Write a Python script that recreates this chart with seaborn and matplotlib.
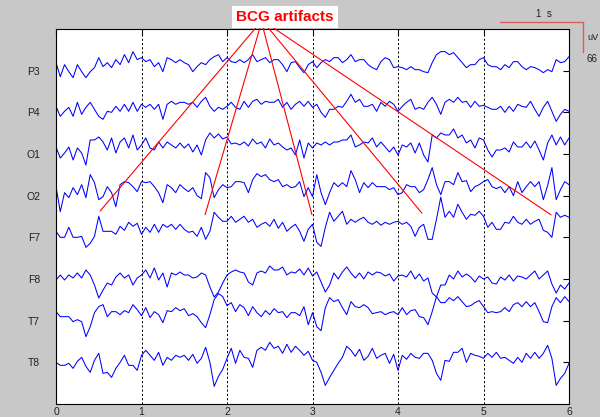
import numpy as np
import pandas as pd
import matplotlib
matplotlib.use("Agg")
import matplotlib.pyplot as plt
from matplotlib.lines import Line2D
import seaborn as sns

# ---------------- data (deflections, display px; 30 px = 66 uV) -------------
channels = ["P3", "P4", "O1", "O2", "F7", "F8", "T7", "T8"]
sample_step_s = 0.05
n_samples = 121

P3 = [8, -6, 6, -1, -7, 6, -1, -7, -1, 3, 13, 4, 8, 3, 11, 6, 16, 8, 19, 11, 13, 9, 11, 4, 8, -1, 13, 11, 8, 11, 8,
      6, -1, 4, 8, 6, 11, 14, 16, 9, 13, 9, 8, 11, 8, 11, 16, 9, 11, 13, 8, 11, 11, 6, -1, 8, 9, 3, -2, 6, 9,
      3, 8, 11, 9, 13, 13, 8, 11, 16, 9, 11, 11, 6, 3, 1, 9, 13, 11, 3, 4, 3, 1, 4, 1, 1, -1, -2, 8, 16, 19,
      19, 16, 18, 13, 8, 3, 6, 6, 11, 13, 6, 4, 4, 1, 6, 3, 9, 9, 4, 1, 4, 3, 1, -2, 1, -1, 11, 8, 9, 14]
P4 = [6, -4, 1, 5, -4, 10, -2, 5, 10, 3, -4, -7, 1, 0, 6, 1, 8, 1, 10, 1, 8, 5, 8, 3, 8, -7, 8, 11, 8, 10, 10,
      8, 10, 5, 11, 15, 6, 1, 5, 3, 6, 10, 5, 3, 11, 5, 11, 13, 8, 11, 10, 10, 13, 5, 10, 3, 8, 11, 6, 11, 5,
      8, 0, -5, 3, 3, 6, 5, 11, 18, 10, 13, 6, 6, 8, 1, 10, 6, 11, 8, 1, 6, 10, 13, 3, 5, 3, 10, 15, 8, -2,
      10, 13, 10, 15, 10, 11, 5, 11, 6, 7, 5, 3, 3, 6, 0, 6, 1, 8, 6, 5, 11, 3, -4, 5, 11, 1, -9, -2, 3, 1]
O1 = [7, -4, 1, 7, -6, 6, 1, -11, 14, 14, 17, 12, 4, 16, 1, 12, 16, 6, 19, 4, 9, 16, 6, 4, 12, 6, 12, 9, 6, 11, 6,
      10, 2, 9, -1, 14, 21, 16, 20, 15, 17, 10, 11, 9, 12, 8, 15, 10, 12, 6, 15, 9, 11, 7, 4, 6, -1, 14, -4, 11, 6,
      11, 9, 12, 9, 12, 12, 14, 14, 19, 7, 9, 12, 11, 16, 7, 12, 7, 2, 7, -1, 9, 7, 11, 1, 11, -1, -8, 19, 16, 21,
      19, 19, 25, 16, 19, 11, 14, 6, 16, 14, 4, -3, 4, 4, 6, 2, 12, 7, 7, 12, 6, 13, 4, -6, 11, 19, 9, 17, 9, 16]
O2 = [9, -16, 3, -2, 8, 1, 11, -2, 21, 13, -4, -1, 9, 3, -11, 11, 14, 13, 9, 4, 14, 13, 14, 9, 3, -7, 11, 8, 3, 11, 7,
      4, 8, 0, -3, 23, 18, -2, 6, 11, 8, 9, 14, 14, 13, 3, 16, 22, 19, 21, 16, 14, 16, 9, 11, 8, 9, 14, -1, 8, -1,
      21, 3, -9, 3, 13, 9, 13, 9, 25, 16, 3, 13, 8, 13, 9, 9, 9, 6, 8, 1, 3, 11, 9, 9, 3, 6, 16, 28, 11, 1,
      14, 14, 11, 23, 14, 15, 4, 9, 11, 14, 16, 9, 7, 9, 3, 9, 0, 14, 3, 9, 14, 9, 14, -4, 10, 28, -4, 6, 14, 11]
F7 = [6, 0, 0, 10, 0, 0, 1, -10, -6, 1, 21, 6, 6, 6, 3, 11, 7, 15, 11, 14, 3, 10, 5, 13, 5, 13, 10, 13, 8, 13, 8,
      5, 6, 1, 10, -2, 6, 25, 20, 16, 16, 21, 15, 18, 21, 15, 18, 10, 13, 15, 11, 18, 9, 15, 6, 10, 13, 6, -4, 8, 13,
      -5, -9, 10, 25, 16, 21, 26, 13, 18, 15, 18, 20, 15, 13, 16, 12, 15, 13, 15, 16, 13, 15, 11, 1, 10, 13, -2, -2, 18, 40,
      20, 26, 20, 33, 25, 18, 23, 22, 26, 21, 10, 15, 8, 8, 15, 14, 21, 15, 13, 18, 13, 16, 18, 7, 5, 0, 25, 20, 22, 20]
F8 = [-1, 4, -1, 4, 1, 6, 1, 9, 4, -6, -19, -11, -4, -6, 2, 6, 1, 4, -6, 1, 4, 9, 1, 11, -1, 6, -8, 6, 4, 7, 4,
      4, 1, 2, 6, 4, -8, -18, -13, -4, 4, 7, 9, 7, 6, -3, -6, 6, 8, 6, 13, 9, 9, 12, 4, 7, 6, 10, 4, 11, 3,
      7, -3, -13, -6, 6, 0, 7, 12, 6, 1, 6, 0, 7, 4, 7, 6, 3, 5, -2, 3, 4, 2, 8, 0, 5, -2, 1, -14, -18, -6,
      -6, 4, 0, 8, 2, 5, 2, -3, 3, 0, 2, -4, -5, 2, -1, 4, -2, 3, 2, 0, 4, 8, 0, 4, 8, -5, -14, -6, -10, -4]
T7 = [9, 4, 4, 4, -1, 1, -1, -16, -6, 8, 14, 16, 4, 9, 9, 6, 10, 8, 16, 11, 5, 13, 3, 9, 6, -2, 10, 9, 13, 10, 12,
      5, 7, 4, -2, -7, 6, 21, 27, 24, 15, 18, 9, 16, 13, 5, 14, 8, 4, 10, 6, 12, 8, 9, 3, 8, 8, 5, 14, -4, 8,
      -6, -10, 13, 23, 19, 21, 13, 6, 19, 14, 13, 16, 13, 7, 8, 9, 6, 8, 9, 6, 13, 6, 10, 11, 4, 3, -4, 9, 24, 18,
      18, 23, 20, 24, 19, 14, 15, 18, 20, 14, 8, 9, 8, 9, 13, 9, 16, 18, 14, 19, 14, 18, 9, -1, -2, 14, 23, 18, 24, 19]
T8 = [0, -3, -3, -1, -6, 1, 5, -4, -10, 2, 9, -11, -10, -15, -6, 0, 7, -3, -3, -8, 7, 12, 7, 2, 10, -3, 5, 2, 7, 5, 7,
      2, 8, -1, 4, 15, 0, -24, -14, -7, 4, 14, -1, 12, 5, 4, -5, 12, 15, 12, 20, 14, 16, 9, 18, 10, 16, 12, 7, 11, 2,
      0, -10, -23, -15, -8, -1, 5, 16, 12, 6, 13, 2, 6, 14, 4, 7, 9, -1, 8, -8, 7, 3, 9, 5, 4, 9, 9, 2, -11, -18,
      2, 1, 10, 10, 14, 0, 9, 7, 6, 4, 9, 5, 10, 4, 5, 2, -1, 5, 0, 9, 4, 10, 4, 9, 17, 4, -23, -16, -11, -1]
x_ticks = [0, 1, 2, 3, 4, 5, 6]
title_text = "BCG artifacts"
scale_time_label = "1  s"
scale_unit_label = "uV"
scale_amp_label = "66"

# ---------------- build table ----------------
px_per_channel = 41.57
time = np.round(np.arange(n_samples) * sample_step_s, 3)
series = {"P3": P3, "P4": P4, "O1": O1, "O2": O2, "F7": F7, "F8": F8, "T7": T7, "T8": T8}
rows = []
for i, ch in enumerate(channels):
    vals = np.asarray(series[ch], dtype=float)
    for tt, v in zip(time, vals):
        rows.append({"t": tt, "channel": ch, "y": (i + 1) - v / px_per_channel})
df = pd.DataFrame(rows)

# ---------------- style ----------------
sns.set_theme(style="white")
plt.rcParams["font.family"] = ["Liberation Sans", "DejaVu Sans"]

W, H = 600, 417
fig = plt.figure(figsize=(W / 100, H / 100), dpi=100, facecolor="#c8c8c8")
ax = fig.add_axes([56 / W, 1 - 404 / H, 513 / W, 375 / H])
ax.set_facecolor("white")

sns.lineplot(data=df, x="t", y="y", units="channel", estimator=None, sort=False,
             color="#0000ff", lw=0.75, ax=ax, legend=False)

for xv in x_ticks[1:-1]:
    ax.axvline(xv, color="black", ls=(0, (2.2, 2.2)), lw=0.7, zorder=1)

ax.set_xlim(0, 6)
ax.set_ylim(9, 0)
ax.set_xticks(x_ticks)
ax.set_xticklabels([str(v) for v in x_ticks])
ax.set_yticks(range(1, len(channels) + 1))
ax.set_yticklabels(channels)
ax.set_xlabel("")
ax.set_ylabel("")
ax.tick_params(axis="both", direction="in", length=4, width=0.8, top=True, right=True,
               labelsize=7.5, labelcolor="#202020", color="black")
ax.tick_params(axis="y", pad=11.5)
ax.tick_params(axis="x", pad=2)
for s in ax.spines.values():
    s.set_visible(True)
    s.set_color("black")
    s.set_linewidth(0.8)

# annotation lines from the title to the artifacts
y0 = -0.034
for x0, x1, y1 in [(2.339, 0.515, 4.37), (2.386, 1.743, 4.46), (2.421, 2.994, 4.46),
                   (2.48, 4.28, 4.42), (2.538, 5.79, 4.46)]:
    ax.plot([x0, x1], [y0, y1], color="red", lw=0.8, clip_on=False, zorder=4)

fig.text(285 / W, 1 - 17 / H, title_text, ha="center", va="center", color="red",
         fontsize=11, fontweight="bold",
         bbox=dict(facecolor="white", edgecolor="none", pad=3.0), zorder=5)

# scale bar
fig.add_artist(Line2D([500 / W, 583 / W], [1 - 22 / H, 1 - 22 / H], color="#e05a5a", lw=1))
fig.add_artist(Line2D([583 / W, 583 / W], [1 - 22 / H, 1 - 52 / H], color="#e05a5a", lw=1))
fig.text(544 / W, 1 - 14 / H, scale_time_label, ha="center", va="center", fontsize=7, color="#202020")
fig.text(598 / W, 1 - 38 / H, scale_unit_label, ha="right", va="center", fontsize=6.5, color="#202020")
fig.text(592 / W, 1 - 59 / H, scale_amp_label, ha="center", va="center", fontsize=7, color="#202020")

fig.savefig("out.png", dpi=100, facecolor=fig.get_facecolor())
